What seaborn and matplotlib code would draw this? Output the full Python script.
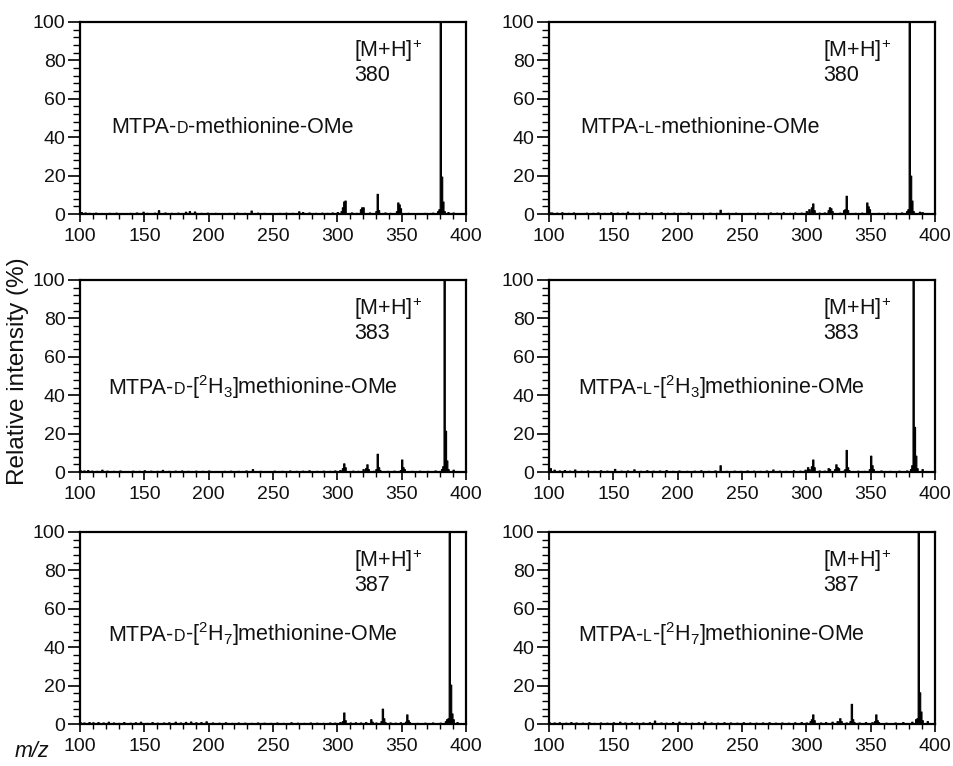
import matplotlib
matplotlib.use("Agg")
import matplotlib.pyplot as plt
import seaborn as sns
from matplotlib.offsetbox import TextArea, HPacker, AnnotationBbox
from matplotlib.ticker import MultipleLocator

# ---------------- data (m/z, relative intensity %) ----------------
# top-left: MTPA-D-methionine-OMe, [M+H]+ 380
dmet_mz = [100, 101, 104, 107, 112, 118, 123, 128, 133, 139, 144, 149, 152, 158, 161, 166, 171,
           176, 182, 185, 189, 194, 199, 205, 211, 216, 222, 228, 233, 238, 243, 249, 255, 260,
           265, 270, 273, 278, 283, 288, 292, 296, 300, 303, 304, 305, 306, 311, 315, 318, 319,
           320, 325, 330, 331, 332, 337, 341, 346, 347, 348, 349, 355, 362, 368, 374, 378, 379,
           380, 381, 382, 383, 386, 390, 400]
dmet_int = [1.0, 1.0, 0.8, 0.6, 0.7, 0.5, 0.6, 0.7, 0.5, 0.6, 0.8, 1.2, 0.6, 0.7, 2.0, 0.8, 0.6,
            0.7, 1.2, 1.5, 1.3, 0.6, 0.7, 0.6, 0.5, 0.6, 0.7, 0.6, 1.8, 0.7, 0.6, 0.5, 0.6, 0.7,
            0.6, 1.4, 1.0, 0.8, 0.6, 0.7, 0.6, 0.8, 1.0, 1.5, 3.5, 6.5, 7.0, 0.8, 0.6, 2.5, 3.5,
            3.5, 0.8, 1.5, 10.5, 2.0, 0.8, 0.6, 1.5, 6.0, 5.0, 3.0, 0.6, 0.5, 0.6, 0.7, 1.5, 2.5,
            100.0, 19.5, 6.5, 1.5, 1.0, 0.8, 0.5]

# top-right: MTPA-L-methionine-OMe, [M+H]+ 380
lmet_mz = [100, 102, 106, 110, 115, 119, 124, 129, 134, 138, 143, 148, 153, 157, 161, 165, 170,
           175, 180, 187, 192, 197, 202, 208, 214, 219, 225, 230, 233, 239, 245, 250, 256, 262,
           267, 272, 277, 282, 287, 291, 296, 300, 302, 304, 305, 306, 310, 314, 317, 318, 319,
           320, 326, 329, 330, 331, 332, 338, 343, 347, 348, 349, 356, 363, 369, 374, 378, 379,
           380, 381, 382, 383, 388, 390, 400]
lmet_int = [1.0, 0.8, 0.7, 0.9, 0.6, 0.8, 0.5, 0.7, 0.6, 0.8, 0.6, 0.9, 0.7, 0.6, 1.2, 0.6, 0.7,
            0.8, 0.6, 0.9, 0.6, 0.7, 0.6, 0.8, 0.5, 0.6, 0.7, 0.6, 2.2, 0.6, 0.7, 0.5, 0.6, 0.7,
            0.6, 0.8, 0.7, 0.9, 0.6, 0.8, 0.7, 1.5, 2.5, 3.5, 5.5, 2.0, 0.7, 0.8, 2.0, 3.5, 3.0,
            1.5, 0.7, 2.0, 2.5, 9.5, 2.0, 0.6, 0.7, 6.0, 4.0, 2.5, 0.6, 0.7, 0.6, 0.8, 1.5, 2.5,
            100.0, 20.0, 7.0, 1.5, 1.2, 1.0, 0.5]

# middle-left: MTPA-D-[2H3]methionine-OMe, [M+H]+ 383
dd3_mz = [100, 103, 106, 109, 113, 117, 121, 126, 131, 136, 141, 146, 150, 155, 160, 164, 169,
          174, 179, 184, 190, 195, 200, 206, 212, 217, 223, 229, 234, 240, 246, 251, 257, 263,
          268, 273, 278, 284, 289, 294, 298, 302, 304, 305, 306, 312, 316, 320, 322, 323, 324,
          328, 330, 331, 332, 333, 339, 344, 349, 350, 351, 352, 358, 364, 370, 376, 381, 382,
          383, 384, 385, 386, 390, 400]
dd3_int = [1.0, 0.8, 1.0, 0.7, 0.6, 1.2, 0.7, 0.6, 0.8, 0.5, 0.7, 0.6, 0.9, 0.7, 0.6, 1.1, 0.6,
           0.7, 0.8, 0.6, 0.7, 0.6, 0.8, 0.5, 0.6, 0.7, 0.6, 0.8, 1.5, 0.6, 0.5, 0.7, 0.6, 0.8,
           0.6, 0.7, 0.9, 0.6, 0.7, 0.6, 0.8, 1.0, 2.0, 4.5, 2.5, 0.7, 0.6, 1.5, 2.0, 4.0, 1.5,
           0.6, 1.5, 9.5, 2.5, 1.0, 0.6, 0.7, 1.0, 6.5, 2.5, 1.5, 0.6, 0.7, 0.6, 0.8, 1.5, 3.0,
           100.0, 21.5, 6.0, 1.5, 1.2, 0.5]

# middle-right: MTPA-L-[2H3]methionine-OMe, [M+H]+ 383
ld3_mz = [100, 101, 104, 108, 112, 116, 120, 125, 130, 135, 140, 145, 151, 156, 161, 166, 171,
          176, 181, 186, 191, 196, 201, 207, 213, 218, 224, 229, 233, 238, 244, 249, 254, 259,
          264, 269, 274, 279, 284, 290, 295, 299, 301, 302, 304, 305, 306, 310, 314, 317, 318,
          322, 323, 324, 325, 329, 330, 331, 332, 333, 340, 345, 349, 350, 351, 352, 358, 365,
          372, 378, 381, 382, 383, 384, 385, 386, 390, 400]
ld3_int = [1.5, 2.0, 1.2, 0.8, 1.0, 0.7, 1.3, 0.6, 0.8, 0.6, 0.9, 0.7, 1.6, 0.7, 0.8, 1.4, 0.6,
           0.9, 0.7, 0.8, 1.0, 0.6, 0.8, 0.6, 0.7, 0.9, 0.6, 0.8, 3.5, 0.6, 0.7, 0.6, 0.8, 0.7,
           0.6, 0.8, 1.3, 0.7, 0.6, 0.9, 0.7, 1.2, 2.5, 1.5, 3.0, 6.5, 2.5, 0.8, 0.7, 2.0, 1.5,
           1.5, 4.0, 2.5, 2.0, 0.7, 1.5, 11.5, 2.5, 1.0, 0.7, 0.6, 1.5, 8.5, 3.5, 1.5, 0.8, 0.6,
           0.7, 0.8, 1.5, 3.5, 100.0, 23.5, 8.5, 2.0, 1.5, 0.5]

# bottom-left: MTPA-D-[2H7]methionine-OMe, [M+H]+ 387
dd7_mz = [100, 103, 107, 110, 114, 118, 122, 126, 130, 134, 139, 143, 147, 152, 156, 160, 165,
          169, 174, 178, 182, 186, 190, 194, 198, 203, 208, 213, 218, 223, 228, 233, 238, 243,
          248, 253, 258, 264, 269, 274, 279, 284, 289, 294, 298, 302, 304, 305, 306, 310, 314,
          318, 322, 326, 327, 330, 334, 335, 336, 337, 341, 345, 349, 353, 354, 355, 356, 362,
          368, 374, 380, 384, 385, 386, 387, 388, 389, 390, 393, 400]
dd7_int = [1.0, 0.8, 1.0, 0.9, 1.0, 0.8, 1.2, 0.8, 0.6, 1.0, 0.7, 0.9, 1.2, 0.6, 1.0, 0.7, 0.8,
           0.9, 1.2, 0.8, 1.1, 1.3, 0.9, 1.0, 1.4, 0.8, 0.7, 0.9, 0.6, 0.8, 0.7, 0.6, 0.8, 0.7,
           0.6, 0.8, 0.6, 0.9, 0.7, 0.6, 0.8, 0.7, 0.6, 0.8, 0.7, 1.0, 1.5, 6.0, 2.0, 0.8, 0.9,
           0.8, 1.0, 2.5, 1.2, 0.8, 1.5, 8.0, 3.0, 1.0, 0.8, 0.7, 0.9, 1.2, 5.0, 2.0, 1.0, 0.6,
           0.7, 0.8, 0.7, 1.5, 2.5, 3.0, 100.0, 20.5, 5.5, 2.5, 1.0, 0.5]

# bottom-right: MTPA-L-[2H7]methionine-OMe, [M+H]+ 387
ld7_mz = [100, 104, 108, 113, 117, 121, 126, 131, 135, 140, 145, 150, 155, 159, 164, 168, 173,
          178, 182, 187, 191, 196, 201, 206, 211, 216, 221, 226, 231, 236, 241, 246, 251, 256,
          261, 266, 271, 276, 281, 286, 291, 296, 300, 303, 304, 305, 306, 311, 315, 320, 324,
          326, 327, 331, 334, 335, 336, 337, 341, 346, 351, 353, 354, 355, 356, 362, 369, 375,
          382, 385, 386, 387, 388, 389, 390, 394, 400]
ld7_int = [1.0, 0.8, 0.9, 0.7, 1.0, 0.8, 0.7, 0.9, 0.6, 0.8, 0.7, 0.9, 1.2, 0.8, 0.9, 0.7, 0.8,
           0.9, 1.8, 0.8, 0.7, 1.0, 1.2, 0.8, 0.7, 0.9, 1.3, 0.8, 0.7, 0.9, 0.8, 0.7, 0.9, 0.8,
           0.7, 0.8, 0.9, 0.7, 0.8, 0.7, 0.9, 1.0, 0.8, 1.5, 2.5, 5.0, 2.0, 0.8, 1.0, 1.2, 1.5,
           3.0, 1.5, 0.8, 1.5, 10.5, 2.5, 1.0, 0.8, 1.0, 0.9, 1.5, 5.0, 2.0, 1.0, 0.7, 0.8, 1.0,
           1.2, 2.5, 3.0, 100.0, 16.5, 6.5, 2.0, 1.5, 0.5]

# labels
compound_parts = [
    ("MTPA-", "D", "-methionine-OMe"),
    ("MTPA-", "L", "-methionine-OMe"),
    ("MTPA-", "D", r"-[$^{2}$H$_{3}$]methionine-OMe"),
    ("MTPA-", "L", r"-[$^{2}$H$_{3}$]methionine-OMe"),
    ("MTPA-", "D", r"-[$^{2}$H$_{7}$]methionine-OMe"),
    ("MTPA-", "L", r"-[$^{2}$H$_{7}$]methionine-OMe"),
]
ion_mz = ["380", "380", "383", "383", "387", "387"]
spectra = [(dmet_mz, dmet_int), (lmet_mz, lmet_int), (dd3_mz, dd3_int),
           (ld3_mz, ld3_int), (dd7_mz, dd7_int), (ld7_mz, ld7_int)]
x_ticks = [100, 150, 200, 250, 300, 350, 400]
y_ticks = [0, 20, 40, 60, 80, 100]

# ---------------- style ----------------
sns.set_theme(style="ticks")
plt.rcParams["font.family"] = ["Liberation Sans", "DejaVu Sans"]
plt.rcParams["mathtext.fontset"] = "custom"
plt.rcParams["mathtext.rm"] = "Liberation Sans"
plt.rcParams["mathtext.it"] = "Liberation Sans:italic"
plt.rcParams["mathtext.bf"] = "Liberation Sans:bold"

TXT = "#111111"
fig = plt.figure(figsize=(9.54, 7.66), dpi=100)

col_x = [0.0839, 0.5755]
row_y = [0.7206, 0.3838, 0.0548]
W, H = 0.4046, 0.2507
label_x = [124.5, 124.0, 122.0, 122.5, 122.0, 122.5]
label_y = [45, 45, 44, 44, 47, 47]

for i, (mz, inten) in enumerate(spectra):
    r, c = divmod(i, 2)
    ax = fig.add_axes([col_x[c], row_y[r], W, H])
    sns.histplot(x=mz, weights=inten, discrete=True, element="step", fill=True,
                 color="black", alpha=1.0, linewidth=0.8, ax=ax)
    ax.set_xlim(100, 400)
    ax.set_ylim(0, 100)
    ax.set_xticks(x_ticks)
    ax.set_yticks(y_ticks)
    ax.xaxis.set_minor_locator(MultipleLocator(10))
    ax.yaxis.set_minor_locator(MultipleLocator(4))
    ax.tick_params(axis="both", which="major", direction="out", length=6, width=1.2,
                   labelsize=14, color="black", labelcolor=TXT)
    ax.tick_params(axis="x", which="major", pad=4)
    ax.tick_params(axis="y", which="major", length=9, pad=1.5)
    ax.tick_params(axis="x", which="minor", direction="out", length=3.5, width=1.0, color="black")
    ax.tick_params(axis="y", which="minor", direction="out", length=5, width=1.0, color="black")
    for sp in ax.spines.values():
        sp.set_visible(True)
        sp.set_linewidth(1.6)
        sp.set_color("black")
    ax.set_xlabel("")
    ax.set_ylabel("")

    # compound label with small-caps D/L
    p1, p2, p3 = compound_parts[i]
    box = HPacker(children=[
        TextArea(p1, textprops=dict(fontsize=15.5, color=TXT)),
        TextArea(p2, textprops=dict(fontsize=11.5, color=TXT)),
        TextArea(p3, textprops=dict(fontsize=15.5, color=TXT)),
    ], align="baseline", pad=0, sep=0)
    ab = AnnotationBbox(box, (label_x[i], label_y[i]), xycoords="data", box_alignment=(0, 0.5),
                        frameon=False, pad=0)
    ax.add_artist(ab)

    ax.text(313, 85, r"[M+H]$^{+}$", fontsize=15.5, ha="left", va="center", color=TXT)
    ax.text(313, 72, ion_mz[i], fontsize=15.5, ha="left", va="center", color=TXT)

fig.text(0.019, 0.516, "Relative intensity (%)", rotation=90, ha="center", va="center",
         fontsize=17.5, color=TXT)
fig.text(0.034, 0.019, "m/z", fontstyle="italic", ha="center", va="center", fontsize=15.5,
         color=TXT)

fig.savefig("out.png", dpi=100)
